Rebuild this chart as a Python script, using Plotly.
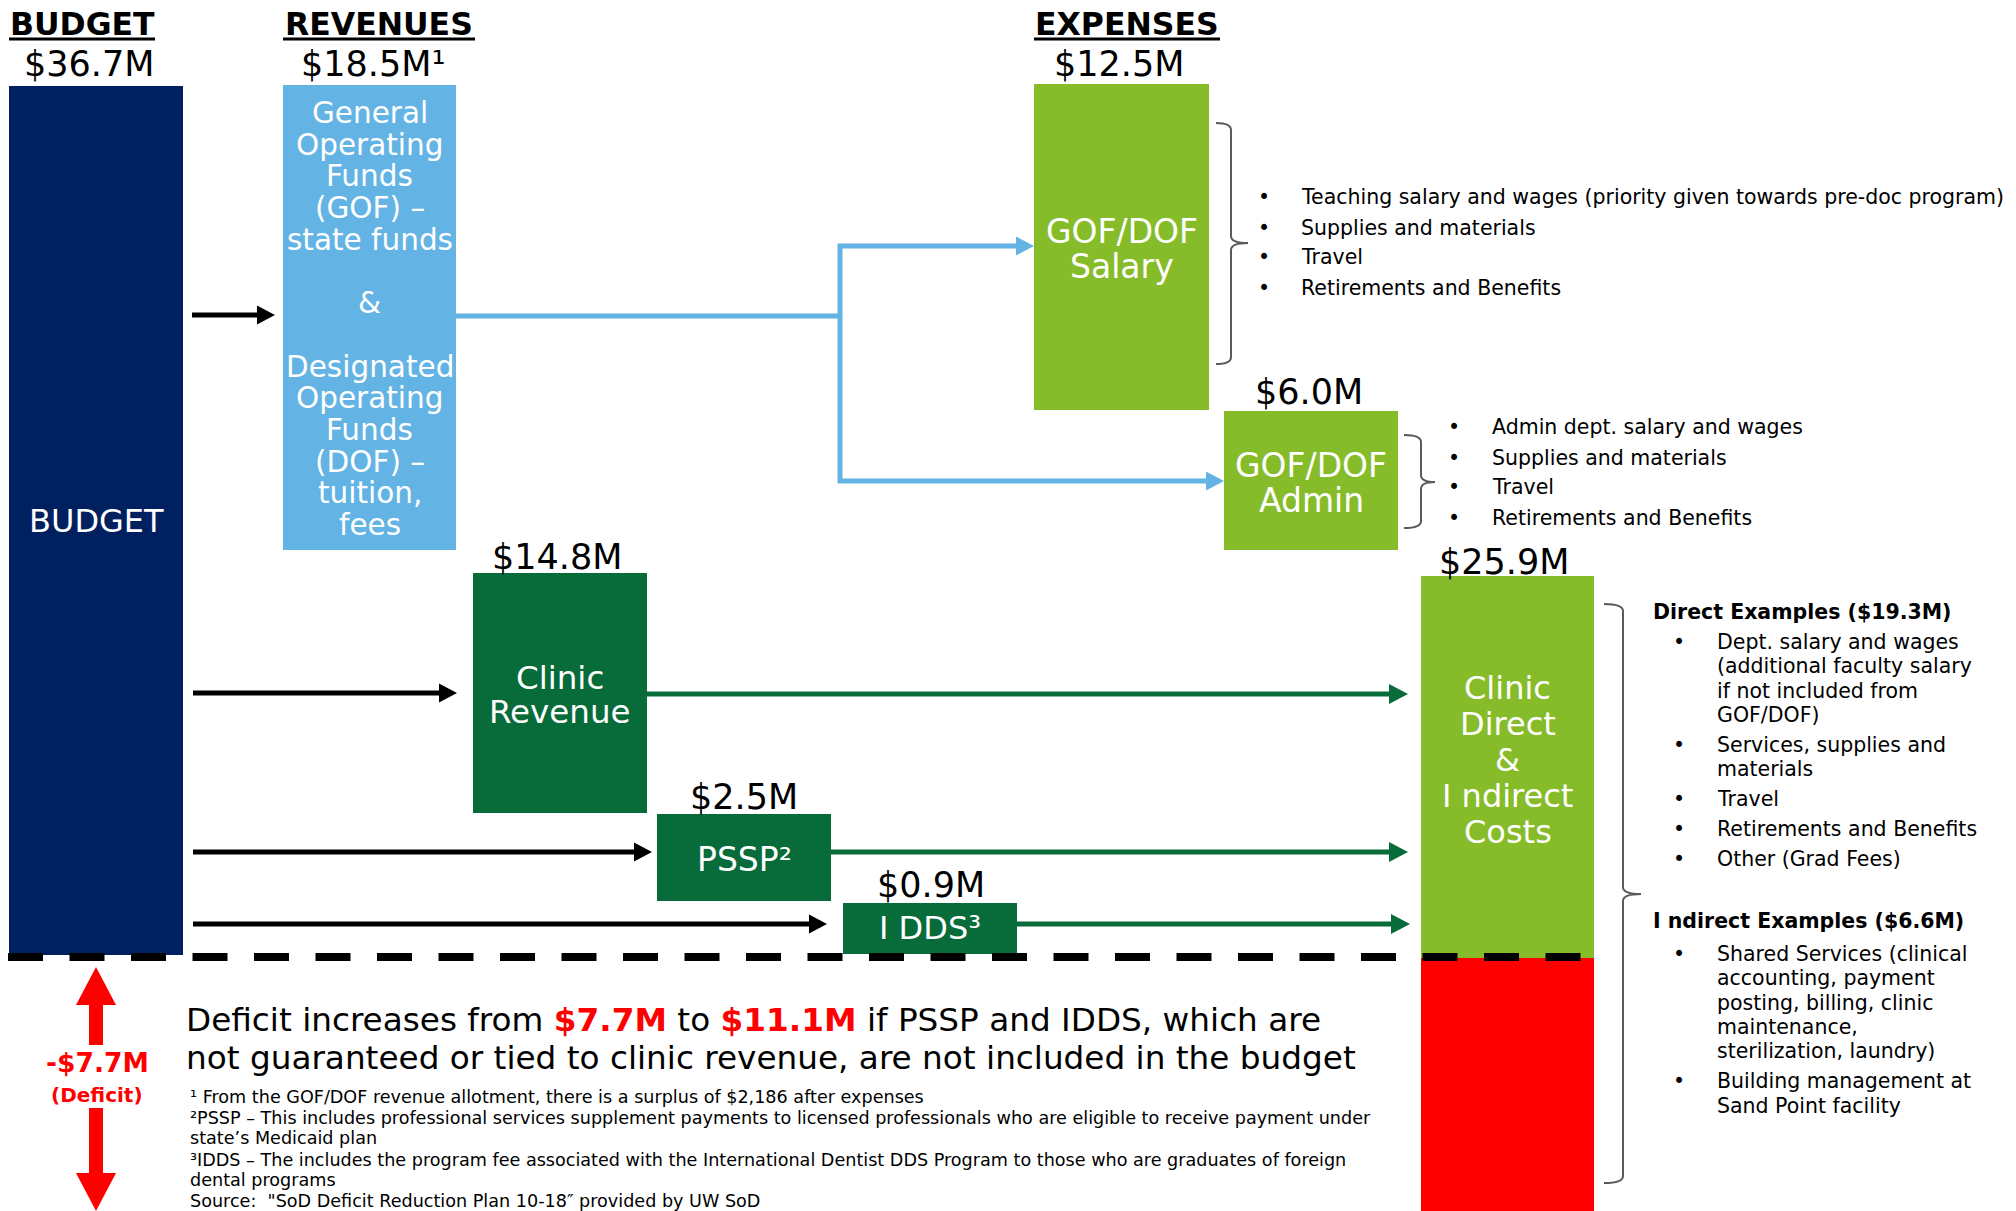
import plotly.graph_objects as go

# ---- datos del diagrama ----
encabezados = ["BUDGET", "REVENUES", "EXPENSES"]

cajas = ["budget", "gof", "salary", "admin", "clinic_rev", "pssp", "idds", "clinic_cost"]
montos = [36.7, 18.5, 12.5, 6.0, 14.8, 2.5, 0.9, 25.9]
sufijos = ["", "¹", "", "", "", "", "", ""]

textos_caja = {
    "budget": ["BUDGET"],
    "gof": ["General", "Operating", "Funds", "(GOF) –", "state funds", "", "&", "",
            "Designated", "Operating", "Funds", "(DOF) –", "tuition,", "fees"],
    "salary": ["GOF/DOF", "Salary"],
    "admin": ["GOF/DOF", "Admin"],
    "clinic_rev": ["Clinic", "Revenue"],
    "pssp": ["PSSP²"],
    "idds": ["I DDS³"],
    "clinic_cost": ["Clinic", "Direct", "&", "I ndirect", "Costs"],
}

salary_items = ["Teaching salary and wages (priority given towards pre-doc program)",
                "Supplies and materials", "Travel", "Retirements and Benefits"]
admin_items = ["Admin dept. salary and wages", "Supplies and materials", "Travel",
               "Retirements and Benefits"]
direct_total = 19.3
indirect_total = 6.6
direct_items = [["Dept. salary and wages", "(additional faculty salary", "if not included from", "GOF/DOF)"],
                ["Services, supplies and", "materials"], ["Travel"], ["Retirements and Benefits"],
                ["Other (Grad Fees)"]]
indirect_items = [["Shared Services (clinical", "accounting, payment", "posting, billing, clinic",
                   "maintenance,", "sterilization, laundry)"],
                  ["Building management at", "Sand Point facility"]]

deficit = 7.7
deficit_sin = 11.1
notas = ["¹ From the GOF/DOF revenue allotment, there is a surplus of $2,186 after expenses",
         "²PSSP – This includes professional services supplement payments to licensed professionals who are eligible to receive payment under",
         "state’s Medicaid plan",
         "³IDDS – The includes the program fee associated with the International Dentist DDS Program to those who are graduates of foreign",
         "dental programs",
         "Source:  \"SoD Deficit Reduction Plan 10-18″ provided by UW SoD"]

# ---- geometria (pixeles) ----
W, H = 2016, 1211
F = "DejaVu Sans"
NAVY, CELESTE, LIMA, VERDE, ROJO, GRIS = "#002060", "#63B4E4", "#86BC29", "#076B3A", "#FF0000", "#5a5a5a"

geom = {  # x0, x1, y0, y1
    "budget": (9, 183, 86, 955),
    "gof": (283, 456, 85, 550),
    "salary": (1034, 1209, 84, 410),
    "admin": (1224, 1398, 411, 550),
    "clinic_rev": (473, 647, 573, 813),
    "pssp": (657, 831, 814, 901),
    "idds": (843, 1017, 903, 954),
    "clinic_cost": (1421, 1594, 576, 958),
}
colores = {"budget": NAVY, "gof": CELESTE, "salary": LIMA, "admin": LIMA,
           "clinic_rev": VERDE, "pssp": VERDE, "idds": VERDE, "clinic_cost": LIMA}
# posicion de la etiqueta de monto (x, y)
pos_monto = {"budget": (89, 64), "gof": (373, 64), "salary": (1119, 64), "admin": (1309, 392),
             "clinic_rev": (557, 557), "pssp": (744, 797), "idds": (931, 885), "clinic_cost": (1504, 562)}
# primera linea, espaciado y tamano del texto dentro de cada caja
pos_texto = {"budget": (521, 0, 32), "gof": (113, 31.7, 29.5), "salary": (231, 35, 33),
             "admin": (465, 35, 33), "clinic_rev": (678, 34, 32.5), "pssp": (859, 0, 33),
             "idds": (928, 0, 32), "clinic_cost": (688, 36, 32)}

fig = go.Figure()
fig.add_trace(go.Scatter(x=[], y=[], hoverinfo="skip", showlegend=False))


def txt(x, y, s, size, color="black", xanchor="center", bold=False):
    if bold:
        s = "<b>" + s + "</b>"
    fig.add_annotation(x=x, y=y, xref="x", yref="y", text=s, showarrow=False,
                       xanchor=xanchor, yanchor="middle",
                       font=dict(family=F, size=size, color=color))


def flecha(x0, y, x1, color, w=5, hl=18, hw=19):
    fig.add_shape(type="line", x0=x0, y0=y, x1=x1 - hl + 2, y1=y, line=dict(color=color, width=w))
    fig.add_shape(type="path", path=f"M{x1},{y} L{x1 - hl},{y - hw / 2} L{x1 - hl},{y + hw / 2} Z",
                  fillcolor=color, line=dict(width=0))


def llave(x, xv, xt, y0, y1, yt):
    r = 7
    p = (f"M{x},{y0} Q{xv},{y0} {xv},{y0 + r} L{xv},{yt - r} Q{xv},{yt} {xt},{yt} "
         f"Q{xv},{yt} {xv},{yt + r} L{xv},{y1 - r} Q{xv},{y1} {x},{y1}")
    fig.add_shape(type="path", path=p, line=dict(color=GRIS, width=2))


# cajas
for c in cajas:
    x0, x1, y0, y1 = geom[c]
    fig.add_shape(type="rect", x0=x0, x1=x1, y0=y0, y1=y1, fillcolor=colores[c], line=dict(width=0))
# parte roja (deficit) bajo la caja de costos
x0, x1, _, y1 = geom["clinic_cost"]
fig.add_shape(type="rect", x0=x0, x1=x1, y0=y1, y1=H, fillcolor=ROJO, line=dict(width=0))

# montos y textos de cajas
for c, m, s in zip(cajas, montos, sufijos):
    mx, my = pos_monto[c]
    txt(mx, my, f"${m:.1f}M{s}", 35)
    x0, x1, _, _ = geom[c]
    ytop, dy, fs = pos_texto[c]
    for i, linea in enumerate(textos_caja[c]):
        if linea:
            txt((x0 + x1) / 2, ytop + i * dy, linea, fs, "white")

# encabezados subrayados
enc_x = [(9, 155), (283, 475), (1034, 1220)]
for e, (a, b) in zip(encabezados, enc_x):
    txt((a + b) / 2, 24, e, 31.5, bold=True)
    fig.add_shape(type="line", x0=a, x1=b, y0=39, y1=39, line=dict(color="black", width=3))

# flechas negras desde el presupuesto
flecha(192, 315, 275, "black")
flecha(193, 693, 457, "black")
flecha(193, 852, 652, "black")
flecha(193, 924, 827, "black")

# flujo azul GOF/DOF
fig.add_shape(type="line", x0=456, x1=842, y0=316, y1=316, line=dict(color=CELESTE, width=5))
fig.add_shape(type="line", x0=840, x1=840, y0=244, y1=483, line=dict(color=CELESTE, width=5))
flecha(838, 246, 1034, CELESTE)
flecha(838, 481, 1224, CELESTE)

# flechas verdes hacia costos de clinica
flecha(647, 694, 1408, VERDE, w=5, hl=19, hw=20)
flecha(831, 852, 1408, VERDE, w=5, hl=19, hw=20)
flecha(1017, 924, 1410, VERDE, w=5, hl=19, hw=20)

# linea discontinua del presupuesto
fig.add_shape(type="line", x0=8, x1=1594, y0=957, y1=957,
              line=dict(color="black", width=8, dash="35px,26.5px"))

# flecha doble roja del deficit
cx = 96
fig.add_shape(type="path", path=f"M{cx},{967} L{cx - 20},{1005} L{cx + 20},{1005} Z", fillcolor=ROJO, line=dict(width=0))
fig.add_shape(type="rect", x0=cx - 7, x1=cx + 7, y0=1004, y1=1045, fillcolor=ROJO, line=dict(width=0))
fig.add_shape(type="rect", x0=cx - 7, x1=cx + 7, y0=1108, y1=1174, fillcolor=ROJO, line=dict(width=0))
fig.add_shape(type="path", path=f"M{cx},{1211} L{cx - 20},{1173} L{cx + 20},{1173} Z", fillcolor=ROJO, line=dict(width=0))
txt(97, 1062, f"-${deficit:.1f}M", 26.5, ROJO, bold=True)
txt(97, 1095, "(Deficit)", 20, ROJO, bold=True)

# texto del deficit
r1 = f"<span style='color:{ROJO}'><b>${deficit:.1f}M</b></span>"
r2 = f"<span style='color:{ROJO}'><b>${deficit_sin:.1f}M</b></span>"
txt(184, 1020, f"Deficit increases from {r1} to {r2} if PSSP and IDDS, which are", 32.7, xanchor="left")
txt(184, 1058, "not guaranteed or tied to clinic revenue, are not included in the budget", 32.7, xanchor="left")

# notas al pie
nota_y = [1097, 1118, 1138, 1160, 1180, 1201]
for s, y in zip(notas, nota_y):
    txt(188, y, s, 17.6, xanchor="left")

# llaves y listas
llave(1216, 1231, 1248, 123, 364, 243)
for s, y in zip(salary_items, [197, 228, 257, 288]):
    txt(1264, y, "•", 20.5)
    txt(1299, y, s, 20.5, xanchor="left")

llave(1404, 1421, 1435, 435, 528, 482)
for s, y in zip(admin_items, [427, 458, 487, 518]):
    txt(1454, y, "•", 20.5)
    txt(1490, y, s, 20.5, xanchor="left")

llave(1604, 1623, 1641, 604, 1183, 894)
txt(1651, 612, f"Direct Examples (${direct_total:.1f}M)", 20.5, xanchor="left", bold=True)
txt(1651, 921, f"I ndirect Examples (${indirect_total:.1f}M)", 20.5, xanchor="left", bold=True)


def lista(items, y, paso=24.3, salto=30):
    for item in items:
        txt(1679, y, "•", 20.5)
        for linea in item:
            txt(1715, y, linea, 20.5, xanchor="left")
            y += paso
        y += salto - paso


lista(direct_items, 642)
lista(indirect_items, 954)

fig.update_layout(
    width=W, height=H, margin=dict(l=0, r=0, t=0, b=0),
    paper_bgcolor="white", plot_bgcolor="white", showlegend=False,
    xaxis=dict(range=[0, W], visible=False, fixedrange=True),
    yaxis=dict(range=[H, 0], visible=False, fixedrange=True),
)

# sin margen del body para que el lienzo ocupe toda la ventana
fig.write_html("out.html", config={"displayModeBar": False},
               post_script="document.body.style.margin='0';")
